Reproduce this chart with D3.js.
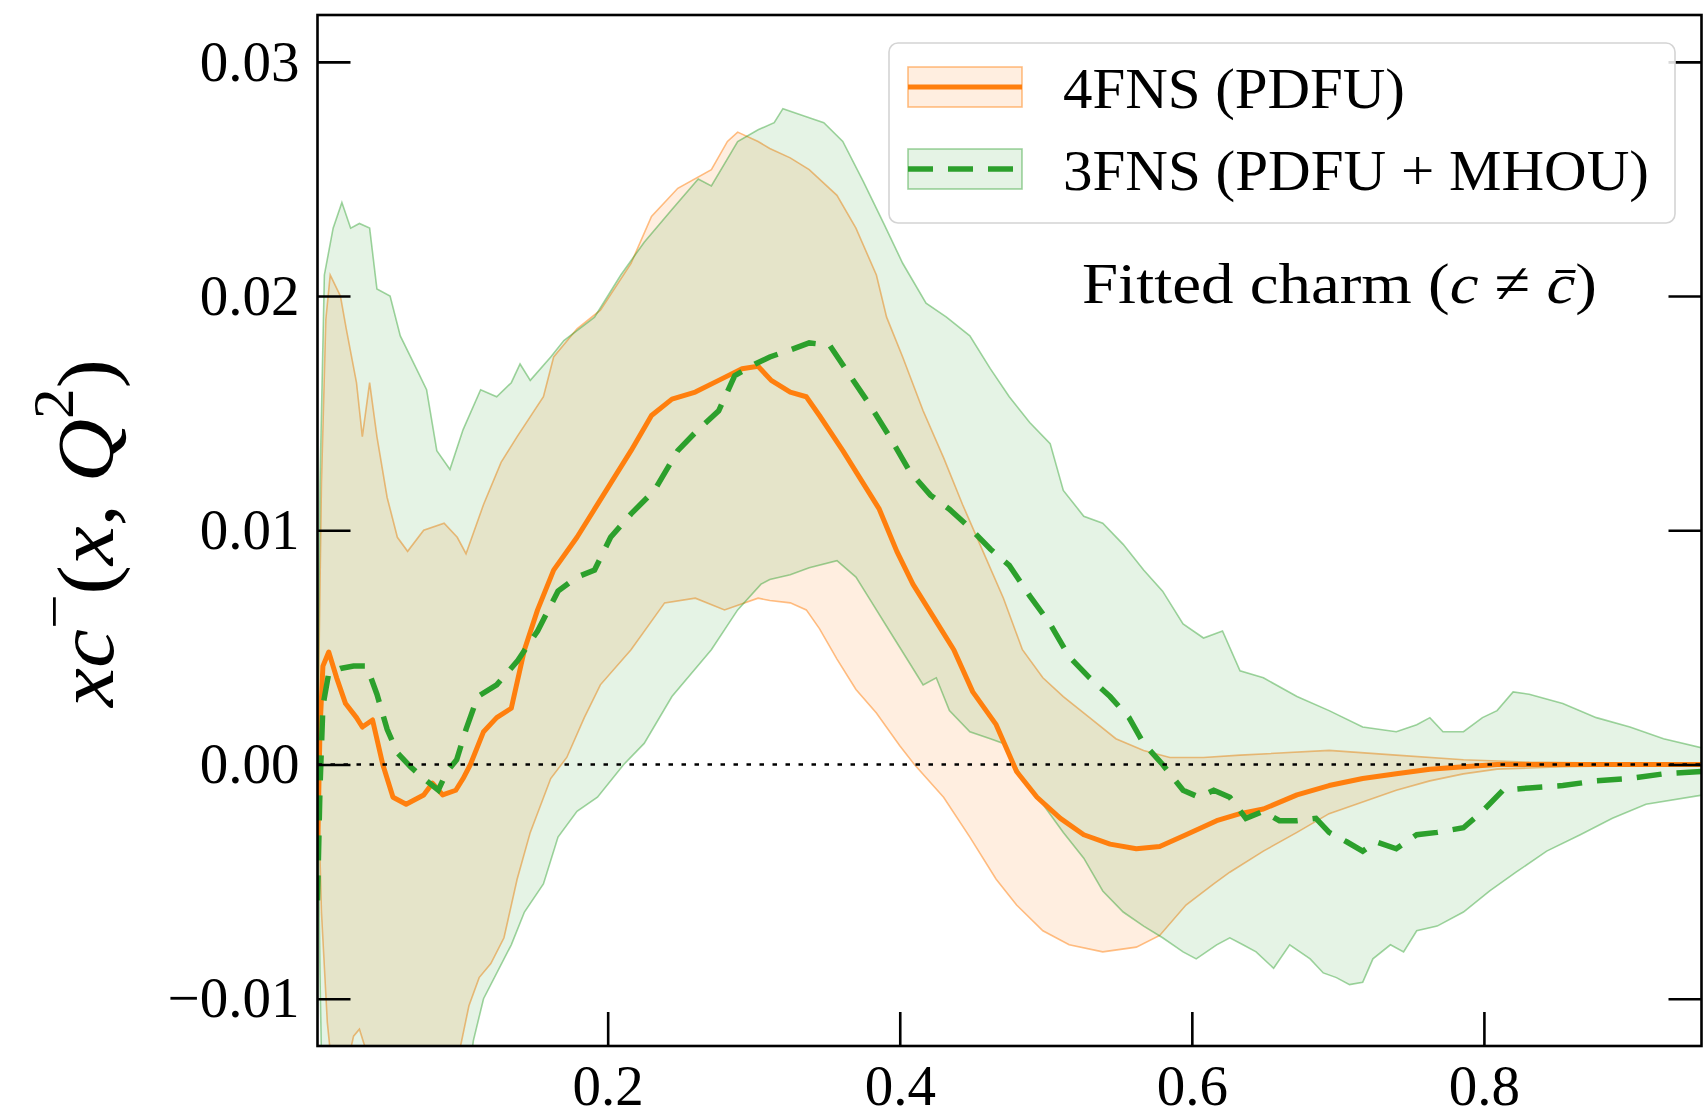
<!DOCTYPE html>
<html><head><meta charset="utf-8">
<script src="https://cdn.jsdelivr.net/npm/d3@7"></script>
<style>body{margin:0;background:#fff} svg{display:block} text{font-family:"Liberation Serif","DejaVu Serif",serif}</style>
</head><body><svg id="c" width="1705" height="1119"></svg>
<script>
const xTicks=[0.2,0.4,0.6,0.8];
const yTicks=[-0.01,0,0.01,0.02,0.03];
const xDomain=[0.0013,0.949];
const yDomain=[-0.01202,0.0320];
const seriesNames=["4FNS (PDFU)","3FNS (PDFU + MHOU)"];
const annotation="Fitted charm (";

// 4FNS central value
const c4Central=[[0.0013,-0.004],[0.003,0.0015],[0.005,0.0042],[0.009,0.0048],[0.0144,0.0037],[0.0205,0.0026],[0.028,0.002],[0.032,0.0016],[0.039,0.0019],[0.046,0.0],[0.053,-0.0014],[0.062,-0.0017],[0.074,-0.0013],[0.080,-0.0008],[0.087,-0.0013],[0.096,-0.0011],[0.101,-0.0006],[0.106,0],[0.115,0.0014],[0.124,0.002],[0.134,0.0024],[0.143,0.0049],[0.152,0.0066],[0.163,0.0083],[0.179,0.0097],[0.191,0.0109],[0.202,0.012],[0.216,0.0134],[0.230,0.0149],[0.244,0.0156],[0.260,0.0159],[0.276,0.0164],[0.292,0.0169],[0.303,0.017],[0.312,0.0164],[0.325,0.0159],[0.336,0.0157],[0.345,0.0149],[0.361,0.0134],[0.375,0.012],[0.386,0.0109],[0.398,0.0091],[0.409,0.0077],[0.423,0.0063],[0.437,0.0049],[0.450,0.0031],[0.466,0.0017],[0.480,-0.0003],[0.494,-0.0014],[0.510,-0.0023],[0.526,-0.003],[0.544,-0.0034],[0.562,-0.0036],[0.578,-0.0035],[0.596,-0.003],[0.617,-0.0024],[0.633,-0.0021],[0.649,-0.0019],[0.672,-0.0013],[0.694,-0.0009],[0.717,-0.0006],[0.740,-0.0004],[0.763,-0.0002],[0.786,-0.0001],[0.809,0],[0.95,0]];
// 4FNS band
const c4Upper=[[0.0013,0],[0.004,0.012],[0.007,0.019],[0.010,0.0209],[0.017,0.020],[0.021,0.0186],[0.028,0.0163],[0.032,0.014],[0.037,0.0163],[0.042,0.014],[0.049,0.0114],[0.056,0.0097],[0.063,0.0091],[0.074,0.010],[0.088,0.0103],[0.097,0.0097],[0.103,0.009],[0.115,0.0111],[0.127,0.0129],[0.138,0.014],[0.156,0.0157],[0.163,0.0174],[0.179,0.0186],[0.195,0.0194],[0.216,0.0214],[0.230,0.0234],[0.248,0.0246],[0.271,0.0254],[0.282,0.0266],[0.289,0.027],[0.303,0.0266],[0.311,0.0263],[0.325,0.0259],[0.338,0.0254],[0.357,0.0243],[0.370,0.0229],[0.384,0.0209],[0.391,0.0191],[0.402,0.0174],[0.416,0.0151],[0.430,0.0131],[0.443,0.0111],[0.457,0.0091],[0.471,0.0071],[0.484,0.0049],[0.498,0.0037],[0.512,0.0029],[0.530,0.002],[0.548,0.0011],[0.567,0.0006],[0.585,0.0003],[0.608,0.0003],[0.633,0.0004],[0.694,0.0006],[0.740,0.0004],[0.786,0.0002],[0.831,0.0001],[0.95,0]];
const c4Lower=[[0.0013,0],[0.004,-0.0063],[0.008,-0.011],[0.012,-0.0135],[0.020,-0.0133],[0.026,-0.0116],[0.030,-0.0113],[0.034,-0.0121],[0.040,-0.013],[0.060,-0.014],[0.090,-0.0132],[0.098,-0.0124],[0.105,-0.0103],[0.112,-0.0091],[0.120,-0.0085],[0.129,-0.0074],[0.138,-0.0049],[0.147,-0.0029],[0.161,-0.0006],[0.172,0.0003],[0.184,0.002],[0.195,0.0034],[0.216,0.0049],[0.239,0.0069],[0.260,0.0071],[0.280,0.0066],[0.303,0.0071],[0.311,0.007],[0.325,0.0069],[0.336,0.0066],[0.345,0.0058],[0.357,0.0045],[0.370,0.0032],[0.384,0.0022],[0.400,0.0008],[0.410,0],[0.430,-0.0014],[0.448,-0.0031],[0.466,-0.0049],[0.480,-0.006],[0.498,-0.0071],[0.516,-0.0077],[0.539,-0.008],[0.562,-0.0078],[0.578,-0.0073],[0.596,-0.006],[0.615,-0.0051],[0.626,-0.0046],[0.649,-0.0037],[0.672,-0.0029],[0.694,-0.0021],[0.717,-0.0016],[0.740,-0.0011],[0.763,-0.0007],[0.786,-0.0004],[0.809,-0.0002],[0.854,-0.0001],[0.95,0]];
// 3FNS central value
const c3Central=[[0.0013,-0.0058],[0.003,-0.001],[0.005,0.0025],[0.009,0.0039],[0.017,0.0041],[0.026,0.0042],[0.035,0.0042],[0.042,0.003],[0.049,0.0015],[0.056,0.0005],[0.065,-0.0001],[0.074,-0.0006],[0.084,-0.0011],[0.090,-0.0003],[0.0966,0.0002],[0.103,0.0015],[0.111,0.0029],[0.124,0.0034],[0.138,0.0044],[0.152,0.0057],[0.166,0.0074],[0.179,0.008],[0.191,0.0083],[0.202,0.0097],[0.216,0.0107],[0.232,0.0117],[0.248,0.0134],[0.262,0.0143],[0.276,0.0151],[0.287,0.0166],[0.301,0.0171],[0.311,0.0174],[0.325,0.0177],[0.338,0.018],[0.352,0.0179],[0.366,0.0166],[0.379,0.0154],[0.393,0.014],[0.407,0.0125],[0.421,0.0115],[0.434,0.0109],[0.448,0.0101],[0.462,0.0092],[0.475,0.0085],[0.489,0.0072],[0.503,0.006],[0.516,0.0046],[0.530,0.0037],[0.544,0.0029],[0.557,0.002],[0.567,0.0009],[0.580,0],[0.594,-0.0011],[0.605,-0.0014],[0.615,-0.0011],[0.626,-0.0014],[0.637,-0.0023],[0.649,-0.002],[0.660,-0.0024],[0.672,-0.0024],[0.685,-0.0023],[0.694,-0.0029],[0.706,-0.0033],[0.717,-0.0037],[0.726,-0.0033],[0.740,-0.0036],[0.754,-0.003],[0.768,-0.0029],[0.786,-0.0027],[0.799,-0.002],[0.813,-0.0011],[0.831,-0.001],[0.854,-0.0009],[0.877,-0.0007],[0.900,-0.0006],[0.923,-0.0004],[0.95,-0.0003]];
// 3FNS band
const c3Upper=[[0.0013,0],[0.003,0.012],[0.006,0.0209],[0.012,0.0229],[0.018,0.024],[0.024,0.0229],[0.030,0.0231],[0.037,0.0229],[0.042,0.0203],[0.051,0.020],[0.058,0.0183],[0.069,0.0169],[0.076,0.016],[0.083,0.0134],[0.092,0.0126],[0.101,0.0143],[0.113,0.016],[0.124,0.0157],[0.134,0.0163],[0.140,0.0171],[0.147,0.0164],[0.161,0.0174],[0.170,0.0181],[0.191,0.0191],[0.209,0.0209],[0.225,0.0223],[0.244,0.0237],[0.262,0.025],[0.271,0.0247],[0.289,0.0266],[0.303,0.0271],[0.314,0.0274],[0.320,0.028],[0.334,0.0277],[0.348,0.0274],[0.361,0.0266],[0.375,0.0249],[0.389,0.0231],[0.402,0.0214],[0.418,0.0197],[0.432,0.0191],[0.448,0.0183],[0.462,0.0169],[0.475,0.0157],[0.489,0.0146],[0.503,0.0137],[0.512,0.0117],[0.526,0.0106],[0.539,0.0103],[0.553,0.0094],[0.567,0.0083],[0.580,0.0074],[0.594,0.006],[0.608,0.0054],[0.621,0.0057],[0.633,0.004],[0.649,0.0037],[0.672,0.0029],[0.694,0.0023],[0.717,0.0016],[0.740,0.0014],[0.754,0.0017],[0.763,0.002],[0.772,0.0014],[0.786,0.0014],[0.799,0.002],[0.809,0.0023],[0.820,0.0031],[0.831,0.003],[0.854,0.0026],[0.877,0.002],[0.900,0.0016],[0.923,0.0011],[0.95,0.0007]];
const c3Lower=[[0.0013,0],[0.003,-0.009],[0.005,-0.016],[0.010,-0.02],[0.100,-0.02],[0.105,-0.0135],[0.108,-0.0118],[0.115,-0.010],[0.134,-0.0077],[0.143,-0.0063],[0.156,-0.0051],[0.166,-0.0031],[0.179,-0.002],[0.193,-0.0014],[0.211,0],[0.225,0.0009],[0.244,0.0029],[0.271,0.0049],[0.289,0.0066],[0.305,0.0077],[0.311,0.0079],[0.325,0.0081],[0.338,0.0084],[0.357,0.0087],[0.370,0.008],[0.379,0.0071],[0.393,0.0057],[0.407,0.0043],[0.416,0.0034],[0.425,0.0037],[0.434,0.0023],[0.448,0.0014],[0.462,0.0011],[0.471,0.0009],[0.484,-0.0006],[0.498,-0.0017],[0.512,-0.0029],[0.526,-0.004],[0.539,-0.0054],[0.553,-0.0063],[0.567,-0.0069],[0.580,-0.0074],[0.594,-0.008],[0.603,-0.0083],[0.617,-0.0077],[0.626,-0.0074],[0.635,-0.0077],[0.644,-0.008],[0.656,-0.0087],[0.667,-0.0077],[0.681,-0.0083],[0.690,-0.0089],[0.699,-0.0091],[0.708,-0.0094],[0.717,-0.0093],[0.724,-0.0083],[0.736,-0.0077],[0.745,-0.008],[0.754,-0.0071],[0.768,-0.0069],[0.786,-0.0063],[0.804,-0.0054],[0.822,-0.0046],[0.843,-0.0037],[0.866,-0.003],[0.888,-0.0023],[0.911,-0.0017],[0.95,-0.0013]];

const ORANGE="#ff7f0e", GREEN="#2ca02c";
const FONT='"Liberation Serif","DejaVu Serif",serif';
const DASH="25,15";
const M={l:317.5,r:1701.5,t:15,b:1046};
const x=d3.scaleLinear().domain(xDomain).range([M.l,M.r]);
const y=d3.scaleLinear().domain(yDomain).range([M.b,M.t]);
const svg=d3.select("#c");
svg.append("defs").append("clipPath").attr("id","clip").append("rect")
  .attr("x",M.l).attr("y",M.t).attr("width",M.r-M.l).attr("height",M.b-M.t);
const line=d3.line().x(d=>x(d[0])).y(d=>y(d[1]));
const band=(up,lo)=>line(up.concat(lo.slice().reverse()))+"Z";
const plot=svg.append("g").attr("clip-path","url(#clip)");

function drawBand(up,lo,col,fo,so){
  plot.append("path").attr("d",band(up,lo)).attr("fill",col).attr("fill-opacity",fo).attr("stroke","none");
  [up,lo].forEach(s=>plot.append("path").attr("d",line(s)).attr("fill","none")
    .attr("stroke",col).attr("stroke-opacity",so).attr("stroke-width",1.6));
}
drawBand(c4Upper,c4Lower,ORANGE,0.13,0.5);
drawBand(c3Upper,c3Lower,GREEN,0.12,0.45);

plot.append("path").attr("d",line(c4Central)).attr("fill","none").attr("stroke",ORANGE).attr("stroke-width",5).attr("stroke-linejoin","round");
plot.append("path").attr("d",line(c3Central)).attr("fill","none").attr("stroke",GREEN).attr("stroke-width",5.5).attr("stroke-dasharray",DASH);
plot.append("line").attr("x1",M.l).attr("x2",M.r).attr("y1",y(0)).attr("y2",y(0))
  .attr("stroke","#000").attr("stroke-width",2.6).attr("stroke-dasharray","4.5,8.5");

function styleAxis(g){
  g.select(".domain").remove();
  g.attr("font-family",FONT).attr("font-size",57);
  g.selectAll(".tick line").attr("stroke","#000").attr("stroke-width",2.6);
  g.selectAll(".tick text").attr("fill","#000");
}
svg.append("g").attr("transform",`translate(${M.l},0)`)
  .call(d3.axisLeft(y).tickValues(yTicks).tickFormat(d3.format(".2f")).tickSize(-33).tickPadding(18)).call(styleAxis);
svg.append("g").attr("transform",`translate(${M.r},0)`)
  .call(d3.axisRight(y).tickValues(yTicks).tickFormat(()=>"").tickSize(-33)).call(styleAxis);
svg.append("g").attr("transform",`translate(0,${M.b})`)
  .call(d3.axisBottom(x).tickValues(xTicks).tickFormat(d3.format(".1f")).tickSize(-34).tickPadding(19)).call(styleAxis);

svg.append("rect").attr("x",M.l).attr("y",M.t).attr("width",M.r-M.l).attr("height",M.b-M.t)
  .attr("fill","none").attr("stroke","#000").attr("stroke-width",2.6);

// legend
const lg=svg.append("g");
lg.append("rect").attr("x",889).attr("y",43).attr("width",786).attr("height",180).attr("rx",9)
  .attr("fill","#fff").attr("fill-opacity",0.85).attr("stroke","#d4d4d4").attr("stroke-width",1.6);
const entries=[{c:ORANGE,fo:0.13,so:0.5,dash:null,y0:67,text:seriesNames[0],base:108,w:342},
               {c:GREEN,fo:0.12,so:0.45,dash:DASH,y0:149,text:seriesNames[1],base:190,w:586}];
entries.forEach(e=>{
  lg.append("rect").attr("x",908).attr("y",e.y0).attr("width",114).attr("height",40)
    .attr("fill",e.c).attr("fill-opacity",e.fo).attr("stroke",e.c).attr("stroke-opacity",e.so).attr("stroke-width",1.6);
  const l=lg.append("line").attr("x1",908).attr("x2",1022).attr("y1",e.y0+20).attr("y2",e.y0+20)
    .attr("stroke",e.c).attr("stroke-width",e.dash?5.5:5);
  if(e.dash) l.attr("stroke-dasharray",e.dash);
  lg.append("text").attr("x",1063).attr("y",e.base).attr("font-size",58).attr("fill","#000")
    .attr("textLength",e.w).attr("lengthAdjust","spacingAndGlyphs").text(e.text);
});

// annotation
const an=svg.append("text").attr("x",1082).attr("y",303).attr("font-size",58).attr("fill","#000")
  .attr("textLength",515).attr("lengthAdjust","spacingAndGlyphs");
an.append("tspan").text(annotation);
an.append("tspan").attr("font-style","italic").text("c");
an.append("tspan").text(" \u2260 ");
an.append("tspan").attr("font-style","italic").text("c\u0304");
an.append("tspan").text(")");

// y label
const yl=svg.append("g").attr("transform","translate(113,533) rotate(-90)")
  .append("text").attr("text-anchor","middle").attr("font-size",80).attr("fill","#000")
  .attr("textLength",348).attr("lengthAdjust","spacingAndGlyphs");
yl.append("tspan").attr("font-style","italic").text("xc");
yl.append("tspan").attr("font-size",56).attr("dy",-40).text("\u2212");
yl.append("tspan").attr("dy",40).text("(");
yl.append("tspan").attr("font-style","italic").text("x");
yl.append("tspan").text(", ");
yl.append("tspan").attr("font-style","italic").text("Q");
yl.append("tspan").attr("font-size",56).attr("dy",-40).text("2");
yl.append("tspan").attr("dy",40).text(")");
</script></body></html>
